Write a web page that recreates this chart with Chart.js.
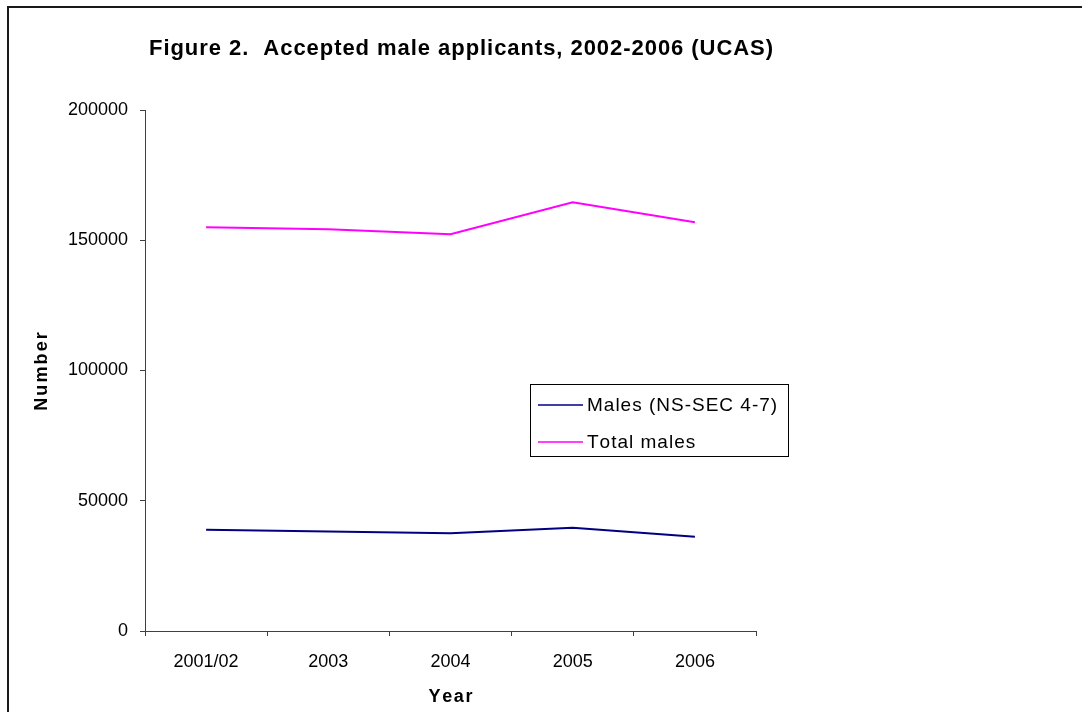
<!DOCTYPE html>
<html>
<head>
<meta charset="utf-8">
<script src="https://cdn.jsdelivr.net/npm/chart.js@4.4.1/dist/chart.umd.min.js"></script>
<style>
  html, body { margin: 0; padding: 0; background: #ffffff; }
  #wrap { width: 1082px; height: 712px; position: relative; }
</style>
</head>
<body>
<div id="wrap"><canvas id="c" width="1082" height="712"></canvas></div>
<script>
// Accepted male applicants by year (UCAS)
const years = ['2001/02', '2003', '2004', '2005', '2006'];
const malesNsSec47 = [38850, 38200, 37550, 39600, 36150];
const totalMales = [155000, 154200, 152300, 164600, 156900];
const yTicks = [0, 50000, 100000, 150000, 200000];

const chartTitle = 'Figure 2.  Accepted male applicants, 2002-2006 (UCAS)';
const xTitle = 'Year';
const yTitle = 'Number';
const FONT = "'Liberation Sans', Arial, sans-serif";
const AXIS = '#404040';

// Draws text with extra space between characters; align is 'left' or 'center'
function spacedText(ctx, text, x, y, spacing, align) {
  const chars = Array.from(text);
  const widths = chars.map(ch => ctx.measureText(ch).width);
  const total = widths.reduce((a, b) => a + b, 0) + spacing * (chars.length - 1);
  let cx = align === 'center' ? x - total / 2 : x;
  ctx.textAlign = 'left';
  chars.forEach((ch, i) => {
    ctx.fillText(ch, cx, y);
    cx += widths[i] + spacing;
  });
}

// Outer frame, heading and axis titles
const framePlugin = {
  id: 'frame',
  beforeDraw(chart) {
    const ctx = chart.ctx;
    ctx.save();
    ctx.fillStyle = '#ffffff';
    ctx.fillRect(0, 0, chart.width, chart.height);
    ctx.fillStyle = '#1a1a1a';
    ctx.fillRect(7, 6, chart.width - 7, 2);
    ctx.fillRect(7, 6, 2, chart.height - 6);
    ctx.restore();
  },
  afterDraw(chart) {
    const ctx = chart.ctx;
    const area = chart.chartArea;
    ctx.save();
    ctx.fillStyle = '#000000';
    ctx.textBaseline = 'alphabetic';
    ctx.font = 'bold 22px ' + FONT;
    spacedText(ctx, chartTitle, 149, 55, 0.95, 'left');

    ctx.font = 'bold 18px ' + FONT;
    ctx.textBaseline = 'middle';
    spacedText(ctx, xTitle, (area.left + area.right) / 2, 697, 1.6, 'center');

    ctx.translate(42, (area.top + area.bottom) / 2 + 1);
    ctx.rotate(-Math.PI / 2);
    spacedText(ctx, yTitle, 0, 0, 2.1, 'center');
    ctx.restore();
  }
};

// Boxed legend drawn inside the plot
const boxLegend = {
  id: 'boxLegend',
  afterDatasetsDraw(chart) {
    const ctx = chart.ctx;
    const x = 530.5, y = 384.5, w = 258, h = 72;
    ctx.save();
    ctx.fillStyle = '#ffffff';
    ctx.fillRect(x, y, w, h);
    ctx.strokeStyle = '#000000';
    ctx.lineWidth = 1;
    ctx.strokeRect(x, y, w, h);
    ctx.font = '19px ' + FONT;
    ctx.textBaseline = 'middle';
    chart.data.datasets.forEach((ds, i) => {
      const cy = 405 + i * 37;
      ctx.strokeStyle = ds.borderColor;
      ctx.lineWidth = 1.5;
      ctx.beginPath();
      ctx.moveTo(538, cy);
      ctx.lineTo(583, cy);
      ctx.stroke();
      ctx.fillStyle = '#000000';
      spacedText(ctx, ds.label, 587, cy + 1, 1.0, 'left');
    });
    ctx.restore();
  }
};

new Chart(document.getElementById('c'), {
  type: 'line',
  data: {
    labels: years,
    datasets: [
      {
        label: 'Males (NS-SEC 4-7)',
        data: malesNsSec47,
        borderColor: '#000080',
        backgroundColor: '#000080',
        borderWidth: 2,
        pointRadius: 0,
        tension: 0
      },
      {
        label: 'Total males',
        data: totalMales,
        borderColor: '#ff00ff',
        backgroundColor: '#ff00ff',
        borderWidth: 2,
        pointRadius: 0,
        tension: 0
      }
    ]
  },
  options: {
    responsive: false,
    animation: false,
    devicePixelRatio: 1,
    layout: { padding: { top: 110, right: 326, left: 0, bottom: 0 } },
    plugins: {
      legend: { display: false },
      title: { display: false },
      tooltip: { enabled: false }
    },
    scales: {
      x: {
        type: 'category',
        offset: true,
        afterFit(scale) { scale.height = 81; },
        grid: {
          offset: true,
          drawOnChartArea: false,
          drawTicks: true,
          tickLength: 5,
          color: AXIS
        },
        border: { display: true, color: AXIS, width: 1 },
        ticks: {
          color: '#000000',
          font: { family: FONT, size: 18 },
          padding: 15,
          maxRotation: 0
        },
        title: { display: false }
      },
      y: {
        min: 0,
        max: 200000,
        afterFit(scale) { scale.width = 145; },
        afterBuildTicks(scale) { scale.ticks = yTicks.map(v => ({ value: v })); },
        grid: {
          drawOnChartArea: false,
          drawTicks: true,
          tickLength: 5,
          color: AXIS
        },
        border: { display: true, color: AXIS, width: 1 },
        ticks: {
          color: '#000000',
          font: { family: FONT, size: 18 },
          padding: 12,
          callback: (v) => String(v)
        },
        title: { display: false }
      }
    }
  },
  plugins: [framePlugin, boxLegend]
});
</script>
</body>
</html>
